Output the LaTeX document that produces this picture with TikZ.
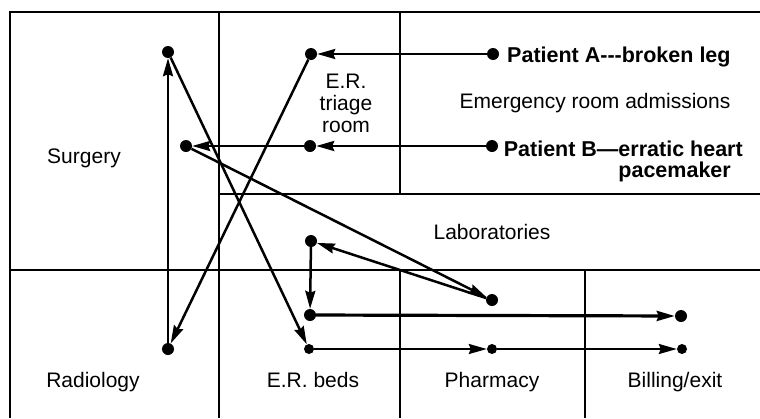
\documentclass[tikz,border=0pt]{standalone}
\usepackage{fontspec}
\setmainfont{Liberation Sans}
\usetikzlibrary{arrows.meta}
\tikzset{
  frame/.style={line width=1.5pt},
  flow/.style={line width=2.5pt,-{Stealth[length=18pt,width=10pt,inset=2pt]}},
  bigdot/.style={circle,fill=black,inner sep=0pt,minimum size=12pt},
  smalldot/.style={circle,fill=black,inner sep=0pt,minimum size=10pt},
  lbl/.style={font=\fontsize{21}{22}\selectfont,inner sep=0pt,anchor=base},
  blbl/.style={font=\fontsize{21.5}{21}\selectfont\bfseries,inner sep=0pt},
}
\begin{document}
\begin{tikzpicture}[x=1pt,y=-1pt]
\useasboundingbox (0,0) rectangle (760,418);
% frame
\draw[frame] (10,418) -- (10,12) -- (760,12);
\draw[frame] (219,12) -- (219,418);
\draw[frame] (400,12) -- (400,194);
\draw[frame] (219,194) -- (760,194);
\draw[frame] (10,270) -- (760,270);
\draw[frame] (400,270) -- (400,418);
\draw[frame] (585,270) -- (585,418);
% dots
\node[bigdot] (st) at (168,52) {};
\node[bigdot] (tt) at (311,54) {};
\node[bigdot] (pa) at (493,54) {};
\node[bigdot] (sm) at (186,146) {};
\node[bigdot] (tm) at (310,146) {};
\node[bigdot] (pb) at (492,146) {};
\node[bigdot] (lab) at (311,241) {};
\node[bigdot] (ph) at (492,300) {};
\node[bigdot] (bm) at (310,315) {};
\node[bigdot] (bl) at (681,316) {};
\node[bigdot] (rad) at (168,349) {};
\node[smalldot] (bb) at (309,349) {};
\node[smalldot] (pbot) at (492,349) {};
\node[smalldot] (blb) at (682,349) {};
% connectors
\draw[flow] (pa) -- (tt);
\draw[flow] (tt) -- (rad);
\draw[flow] (rad) -- (st);
\draw[flow] (st) -- (bb);
\draw[flow] (pb) -- (tm);
\draw[flow] (tm) -- (sm);
\draw[flow] (sm) -- (ph);
\draw[flow] (ph) -- (lab);
\draw[flow] (lab) -- (bm);
\draw[flow,line width=3.2pt] (bm) -- (bl);
\draw[flow,line width=2.2pt] (bb) -- (pbot);
\draw[flow,line width=2.2pt] (pbot) -- (blb);
% labels
\node[lbl] (surg) at (84,163) {Surgery};
\node[lbl,align=center] (tri) at (346,132) {E.R.\\triage\\room};
\node[blbl,anchor=base west] (ta) at (507,62) {Patient A-{}-{}-broken leg};
\node[lbl] (era) at (595,108) {Emergency room admissions};
\node[blbl,anchor=base east,align=right] (tb) at (743,177) {Patient B—erratic heart\\pacemaker\hspace*{12pt}};
\node[lbl] (labs) at (492,239) {Laboratories};
\node[lbl] (radl) at (93,387) {Radiology};
\node[lbl] (erb) at (313,387) {E.R. beds};
\node[lbl] (phl) at (492,387) {Pharmacy};
\node[lbl] (bil) at (675,387) {Billing/exit};
\end{tikzpicture}
\end{document}
